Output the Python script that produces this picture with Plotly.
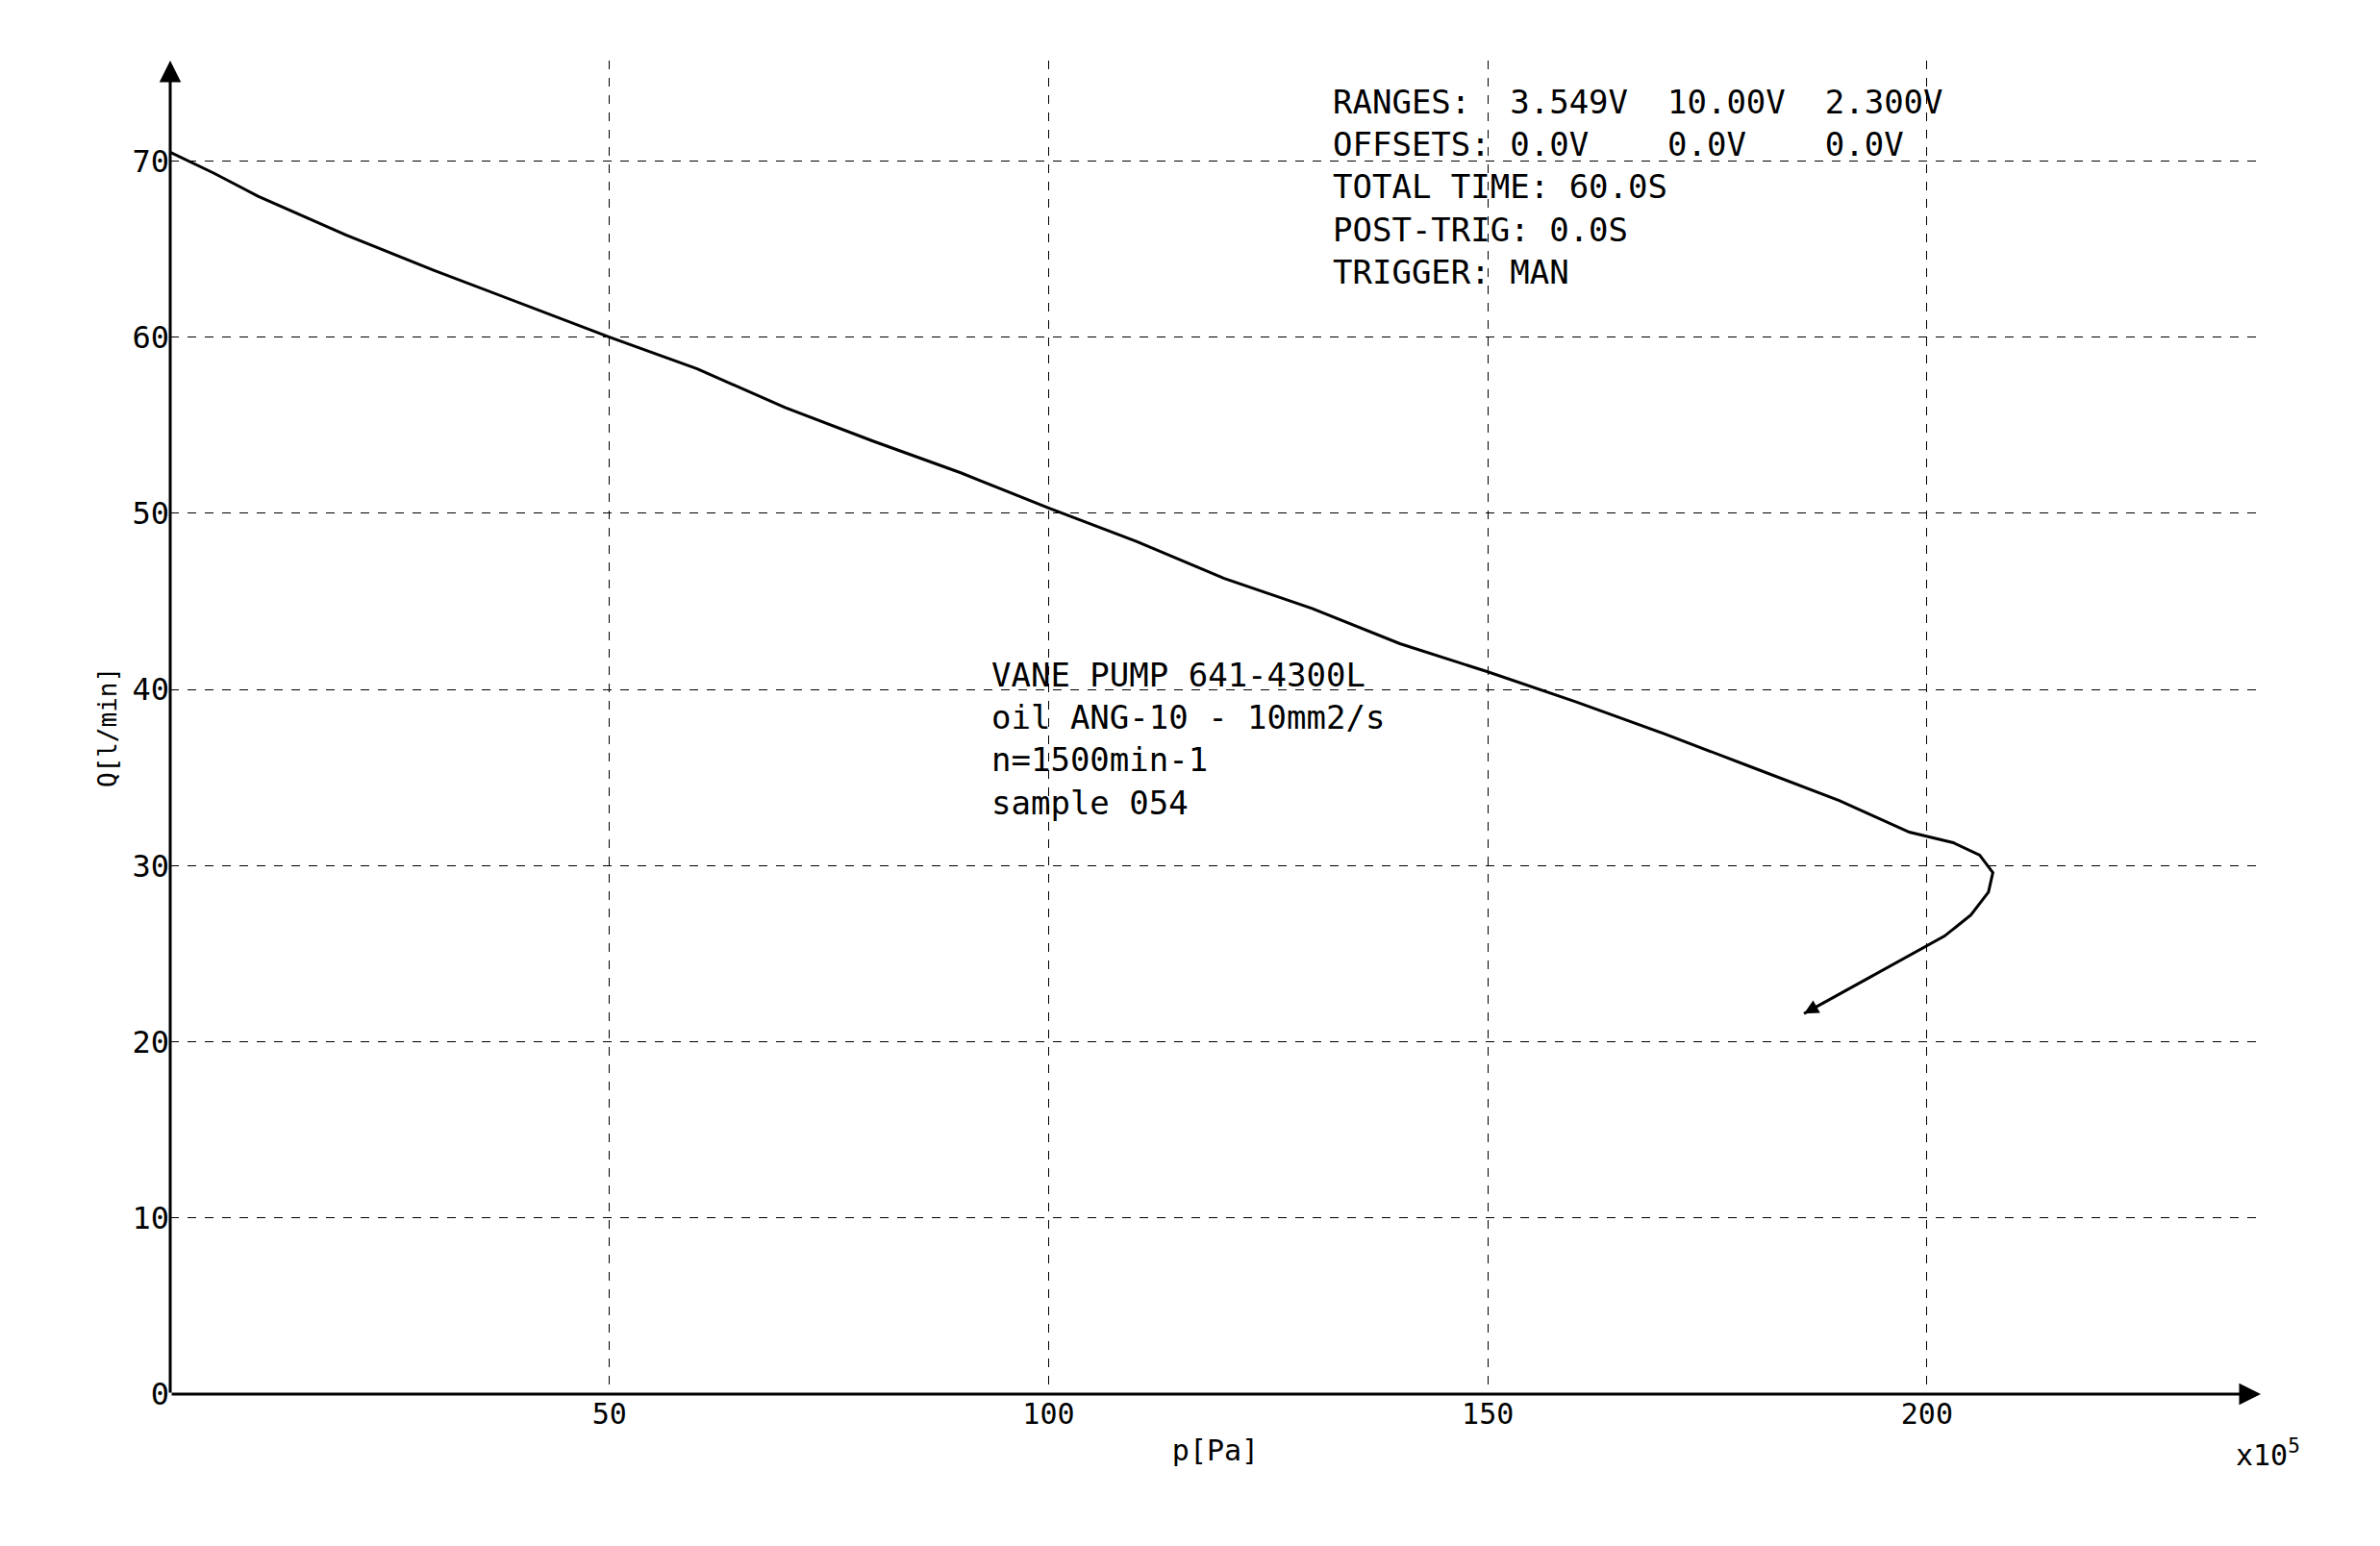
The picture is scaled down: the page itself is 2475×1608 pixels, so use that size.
import plotly.graph_objects as go

# curve: pressure (x10^5 Pa) vs flow (l/min)
p_vals = [0, 5, 10, 20, 30, 40, 50, 60, 70, 80, 90, 100, 110, 120, 130, 140, 150, 160, 170,
          180, 190, 198, 203, 206, 207.5, 207, 205, 202, 198, 194, 190, 186]
q_vals = [70.5, 69.3, 68.0, 65.8, 63.8, 61.9, 60.0, 58.2, 56.0, 54.1, 52.3, 50.3, 48.4, 46.3,
          44.6, 42.6, 41.0, 39.3, 37.5, 35.6, 33.7, 31.9, 31.3, 30.6, 29.6, 28.5, 27.2, 26.0,
          24.9, 23.8, 22.7, 21.6]
x_ticks = [50, 100, 150, 200]
y_ticks = [0, 10, 20, 30, 40, 50, 60, 70]

FONT = "DejaVu Sans Mono"

fig = go.Figure()
fig.add_trace(go.Scatter(x=p_vals, y=q_vals, mode="lines",
                         line=dict(color="black", width=3), showlegend=False))
# arrow at curve end
fig.add_annotation(x=p_vals[-1], y=q_vals[-1], ax=p_vals[-3], ay=q_vals[-3],
                   xref="x", yref="y", axref="x", ayref="y", showarrow=True,
                   arrowhead=2, arrowsize=1.2, arrowwidth=2.5, arrowcolor="black", text="")

fig.update_xaxes(range=[0, 238], tickvals=x_ticks, showgrid=True, gridcolor="black",
                 griddash="dash", gridwidth=1.2, zeroline=False, showline=False,
                 ticks="", tickfont=dict(family=FONT, size=30, color="black"),
                 title=dict(text="p[Pa]", font=dict(family=FONT, size=30, color="black"), standoff=10))
fig.update_yaxes(range=[0, 75.7], tickvals=y_ticks, showgrid=True, gridcolor="black",
                 griddash="dash", gridwidth=1.2, zeroline=False, showline=False,
                 ticks="", ticksuffix="  ", tickfont=dict(family=FONT, size=32, color="black"),
                 title=dict(text="Q[l/min]", font=dict(family=FONT, size=26, color="black"), standoff=8))

# axes with arrows
fig.add_annotation(x=1.0, y=0, ax=0, ay=0, xref="x domain", yref="y domain",
                   axref="x domain", ayref="y domain",
                   showarrow=True, arrowhead=2, arrowsize=1.5, arrowwidth=3, arrowcolor="black", text="")
fig.add_annotation(x=0, y=1.0, ax=0, ay=0, xref="x domain", yref="y domain",
                   axref="x domain", ayref="y domain",
                   showarrow=True, arrowhead=2, arrowsize=1.5, arrowwidth=3, arrowcolor="black", text="")

fig.add_annotation(x=1.02, y=-0.06, xref="paper", yref="paper", showarrow=False,
                   text="x10<sup>5</sup>", font=dict(family=FONT, size=30, color="black"))

fig.add_annotation(x=0.555, y=0.985, xref="paper", yref="paper", showarrow=False,
                   xanchor="left", yanchor="top", align="left",
                   text="RANGES:  3.549V  10.00V  2.300V<br>OFFSETS: 0.0V    0.0V    0.0V<br>"
                        "TOTAL TIME: 60.0S<br>POST-TRIG: 0.0S<br>TRIGGER: MAN",
                   font=dict(family=FONT, size=34, color="black"))
fig.add_annotation(x=0.392, y=0.555, xref="paper", yref="paper", showarrow=False,
                   xanchor="left", yanchor="top", align="left",
                   text="VANE PUMP 641-4300L<br>oil ANG-10 - 10mm2/s<br>n=1500min-1<br>sample 054",
                   font=dict(family=FONT, size=34, color="black"))

fig.update_layout(width=2475, height=1608, plot_bgcolor="white", paper_bgcolor="white",
                  margin=dict(l=169, r=132, t=55, b=166))
fig.write_html("out.html")
